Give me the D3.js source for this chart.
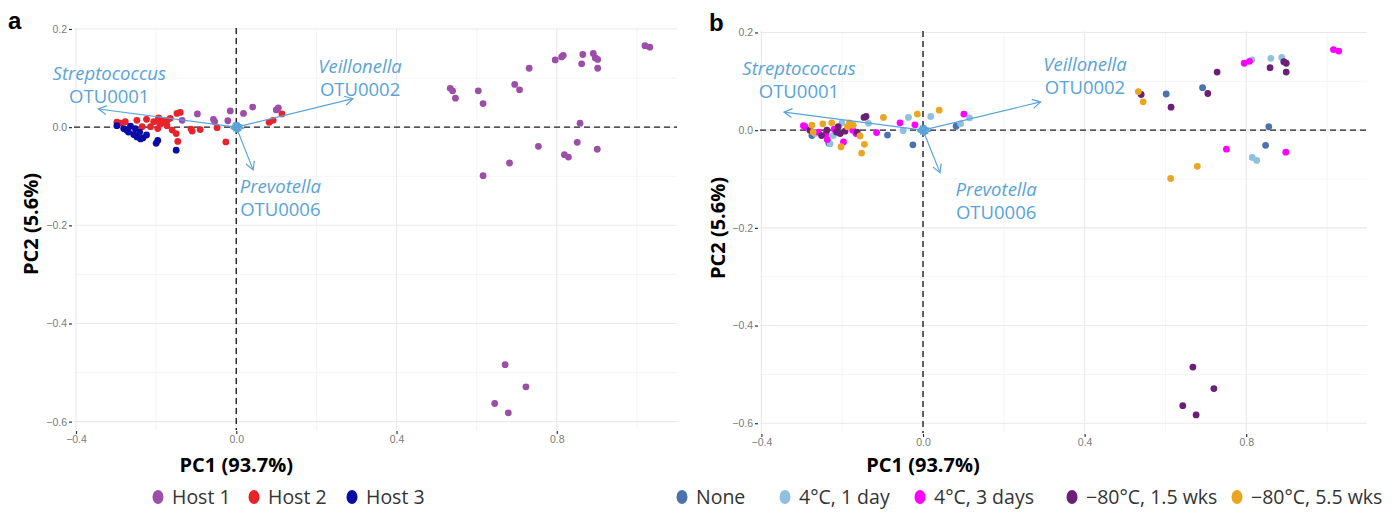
<!DOCTYPE html>
<html>
<head>
<meta charset="utf-8">
<script src="https://cdnjs.cloudflare.com/ajax/libs/d3/7.8.5/d3.min.js"></script>
<style>
    body { margin: 0; background: #fff; }
    svg { display: block; font-family: "Open Sans", sans-serif; }
</style>
</head>
<body>
<div id="chart"></div>
<script>
"use strict";

// tick values
const xMajor = [-0.4, 0.0, 0.4, 0.8];
const xMinor = [-0.2, 0.2, 0.6, 1.0];
const yMajor = [-0.6, -0.4, -0.2, 0.0, 0.2];
const yMinor = [-0.5, -0.3, -0.1, 0.1];

// OTU loadings (biplot arrows)
const loadingNames = ["Streptococcus", "Veillonella", "Prevotella"];
const loadingOtus = ["OTU0001", "OTU0002", "OTU0006"];
const loadingPC1 = [-0.344, 0.291, 0.042];
const loadingPC2 = [0.037, 0.058, -0.087];
// the many small loadings bunched at the origin
const minorPC1 = [0.014, 0.011, -0.009, 0.006, -0.006, 0.018, -0.013, 0.004];
const minorPC2 = [0.004, -0.007, 0.004, 0.009, -0.008, -0.002, -0.002, -0.010];

// panel a: samples by host
const hostNames = ["Host 1", "Host 2", "Host 3"];
const host1 = [[1.020, 0.166], [1.032, 0.163], [0.796, 0.137], [0.812, 0.143], [0.816, 0.146], [0.865, 0.148],
    [0.862, 0.129], [0.891, 0.150], [0.896, 0.141], [0.902, 0.138], [0.902, 0.120], [0.731, 0.120], [0.695, 0.087],
    [0.707, 0.076], [0.604, 0.074], [0.616, 0.048], [0.534, 0.079], [0.540, 0.074], [0.547, 0.059], [0.858, 0.008],
    [0.754, -0.039], [0.851, -0.031], [0.819, -0.056], [0.829, -0.061], [0.901, -0.045], [0.682, -0.073],
    [0.616, -0.099], [0.671, -0.484], [0.723, -0.529], [0.645, -0.563], [0.679, -0.582],
    [0.100, 0.035], [0.105, 0.039], [0.041, 0.041], [0.018, 0.028], [-0.015, 0.033], [-0.021, 0.013],
    [-0.057, 0.016], [-0.054, 0.011], [-0.097, 0.027], [-0.135, 0.014], [-0.196, 0.012]];
const host2 = [[0.114, 0.027], [0.092, 0.014], [0.082, 0.010], [-0.048, -0.001], [-0.090, -0.005], [-0.110, -0.008],
    [-0.026, -0.030], [-0.298, 0.010], [-0.289, 0.008], [-0.277, 0.011], [-0.248, 0.014], [-0.224, 0.016],
    [-0.194, 0.019], [-0.188, 0.014], [-0.173, 0.013], [-0.148, 0.028], [-0.140, 0.030], [-0.214, 0.001],
    [-0.196, -0.003], [-0.173, 0.003], [-0.160, -0.006], [-0.150, -0.013], [-0.146, -0.029], [-0.113, -0.004],
    [-0.190, 0.006], [-0.235, 0.001], [-0.206, 0.011], [-0.181, 0.010], [-0.165, 0.018]];
const host3 = [[-0.298, 0.003], [-0.281, -0.003], [-0.269, -0.010], [-0.256, -0.015], [-0.248, -0.020],
    [-0.239, -0.024], [-0.233, -0.022], [-0.224, -0.016], [-0.241, -0.010], [-0.252, -0.003], [-0.196, -0.027],
    [-0.200, -0.033], [-0.150, -0.047], [-0.264, 0.002], [-0.274, -0.006]];

// panel b: samples by storage condition
const storageNames = ["None", "4°C, 1 day", "4°C, 3 days", "\u221280°C, 1.5 wks", "\u221280°C, 5.5 wks"];
const storeNone = [[0.692, 0.087], [0.602, 0.074], [0.856, 0.007], [0.848, -0.031], [0.082, 0.008],
    [-0.025, -0.030], [-0.088, -0.010], [-0.233, -0.027], [-0.275, -0.011]];
const store4c1d = [[0.814, 0.144], [0.861, 0.147], [0.888, 0.149], [0.815, -0.056], [0.826, -0.062],
    [-0.036, 0.026], [0.019, 0.028], [0.115, 0.025], [0.093, 0.013], [-0.049, -0.001], [-0.135, 0.014],
    [-0.201, 0.015], [-0.230, -0.028], [-0.222, -0.011], [-0.267, -0.007]];
const store4c3d = [[1.016, 0.165], [1.029, 0.162], [0.795, 0.137], [0.808, 0.141], [0.751, -0.039], [0.898, -0.045],
    [0.101, 0.033], [-0.057, 0.015], [-0.020, 0.011], [-0.115, -0.005], [-0.296, 0.009], [-0.197, -0.024],
    [-0.237, -0.019], [-0.220, 0.002], [-0.240, -0.007], [-0.259, -0.004], [-0.292, 0.007], [-0.166, -0.007],
    [-0.174, 0.000]];
const store80w15 = [[0.893, 0.140], [0.899, 0.137], [0.859, 0.128], [0.899, 0.119], [0.728, 0.119], [0.705, 0.075],
    [0.614, 0.047], [0.540, 0.073], [0.668, -0.485], [0.720, -0.529], [0.643, -0.564], [0.676, -0.583],
    [-0.146, 0.026], [-0.141, 0.028], [-0.214, -0.004], [-0.205, -0.007], [-0.251, -0.011], [-0.280, 0.000],
    [-0.163, -0.004], [-0.193, -0.002], [-0.210, 0.007], [-0.238, 0.000]];
const store80w55 = [[0.533, 0.079], [0.545, 0.058], [0.679, -0.074], [0.613, -0.099], [-0.014, 0.033],
    [0.040, 0.041], [-0.098, 0.026], [-0.182, 0.015], [-0.226, 0.015], [-0.248, 0.013], [-0.275, 0.010],
    [-0.156, -0.012], [-0.145, -0.029], [-0.152, -0.047], [-0.203, -0.034], [-0.272, -0.004], [-0.187, 0.007],
    [-0.173, 0.010]];

const arrowColor = "#5aa3d8";

const panels = [
    {
        tag: "a", tagX: 8, tagY: 29,
        left: 74, right: 677, top: 28, bottom: 430,
        xDom: [-0.405, 1.10], yDom: [0.202, -0.617],
        yTitleX: 38, yTitleY: 224,
        names: hostNames,
        series: [host1, host2, host3],
        colors: ["#9d4ea7", "#e8232a", "#0a0aa6"],
        labelPos: [[-0.317, 0.096], [0.309, 0.110], [0.110, -0.135]],
        legendX: [158, 254, 352]
    },
    {
        tag: "b", tagX: 709, tagY: 31,
        left: 760, right: 1367, top: 31, bottom: 433,
        xDom: [-0.4035, 1.099], yDom: [0.203, -0.62],
        yTitleX: 725, yTitleY: 228,
        names: storageNames,
        series: [storeNone, store4c1d, store4c3d, store80w15, store80w55],
        colors: ["#4a72ae", "#8fc0e0", "#ff00ff", "#6a1f78", "#eaa623"],
        labelPos: [[-0.307, 0.113], [0.401, 0.121], [0.181, -0.134]],
        legendX: [682, 785, 920, 1072, 1237]
    }
];

const svg = d3.select("#chart").append("svg")
    .attr("width", 1396)
    .attr("height", 513);

const defs = svg.append("defs");
defs.append("marker")
    .attr("id", "head")
    .attr("markerUnits", "userSpaceOnUse")
    .attr("markerWidth", 12).attr("markerHeight", 12)
    .attr("viewBox", "-10 -6 12 12")
    .attr("refX", 0).attr("refY", 0)
    .attr("orient", "auto")
    .append("path")
    .attr("d", "M-8,-4.5L0,0L-8,4.5")
    .attr("fill", "none")
    .attr("stroke", arrowColor)
    .attr("stroke-width", 1.2);

panels.forEach(drawPanel);

function drawPanel(p) {
    let x = d3.scaleLinear().domain(p.xDom).range([p.left, p.right]);
    let y = d3.scaleLinear().domain(p.yDom).range([p.top, p.bottom]);
    let g = svg.append("g");

    // grid: minor first, then major
    g.selectAll(".vminor").data(xMinor).enter().append("line")
        .attr("x1", d => x(d)).attr("x2", d => x(d))
        .attr("y1", p.top).attr("y2", p.bottom)
        .attr("stroke", "#f1f1f1").attr("stroke-width", 0.8);
    g.selectAll(".hminor").data(yMinor).enter().append("line")
        .attr("x1", p.left).attr("x2", p.right)
        .attr("y1", d => y(d)).attr("y2", d => y(d))
        .attr("stroke", "#f1f1f1").attr("stroke-width", 0.8);
    g.selectAll(".vmajor").data(xMajor).enter().append("line")
        .attr("x1", d => x(d)).attr("x2", d => x(d))
        .attr("y1", p.top).attr("y2", p.bottom)
        .attr("stroke", "#e9e9e9").attr("stroke-width", 1.1);
    g.selectAll(".hmajor").data(yMajor).enter().append("line")
        .attr("x1", p.left).attr("x2", p.right)
        .attr("y1", d => y(d)).attr("y2", d => y(d))
        .attr("stroke", "#e9e9e9").attr("stroke-width", 1.1);

    // axes
    let fmt = d3.format(".1f");
    let yAxis = g.append("g")
        .attr("transform", "translate(" + (p.left - 2) + ",0)")
        .call(d3.axisLeft(y).tickValues(yMajor).tickSize(3).tickPadding(2).tickFormat(fmt));
    let xAxis = g.append("g")
        .attr("transform", "translate(0," + (p.bottom + 1) + ")")
        .call(d3.axisBottom(x).tickValues(xMajor).tickSize(3).tickPadding(2).tickFormat(fmt));
    [xAxis, yAxis].forEach(a => {
        a.select(".domain").remove();
        a.selectAll(".tick line").attr("stroke", "#333").attr("stroke-width", 1.2);
        a.selectAll(".tick text")
            .attr("fill", "#7a7a7a")
            .style("font-family", "'Liberation Sans', Arial, sans-serif")
            .style("font-size", "10.5px");
    });

    // dashed zero lines
    g.append("line")
        .attr("x1", p.left).attr("x2", p.right)
        .attr("y1", y(0)).attr("y2", y(0))
        .attr("stroke", "#222").attr("stroke-width", 1.4)
        .attr("stroke-dasharray", "6,4");
    g.append("line")
        .attr("x1", x(0)).attr("x2", x(0))
        .attr("y1", p.top).attr("y2", p.bottom)
        .attr("stroke", "#222").attr("stroke-width", 1.4)
        .attr("stroke-dasharray", "6,4");

    // sample points
    p.series.forEach((pts, i) => {
        g.selectAll(".pt" + i).data(pts).enter().append("circle")
            .attr("cx", d => x(d[0]))
            .attr("cy", d => y(d[1]))
            .attr("r", 3.4)
            .attr("fill", p.colors[i]);
    });

    // loading arrows
    let arrows = minorPC1.map((v, i) => [v, minorPC2[i]])
        .concat(loadingPC1.map((v, i) => [v, loadingPC2[i]]));
    g.selectAll(".arrow").data(arrows).enter().append("line")
        .attr("x1", x(0)).attr("y1", y(0))
        .attr("x2", d => x(d[0])).attr("y2", d => y(d[1]))
        .attr("stroke", arrowColor)
        .attr("stroke-width", 1.2)
        .attr("marker-end", "url(#head)");

    // arrow labels
    loadingNames.forEach((name, i) => {
        let lx = x(p.labelPos[i][0]);
        let ly = y(p.labelPos[i][1]);
        g.append("text")
            .attr("x", lx).attr("y", ly)
            .attr("text-anchor", "middle")
            .attr("fill", arrowColor)
            .style("font-style", "italic")
            .style("font-size", "18.5px")
            .text(name);
        g.append("text")
            .attr("x", lx).attr("y", ly + 23)
            .attr("text-anchor", "middle")
            .attr("fill", arrowColor)
            .style("font-size", "18.5px")
            .text(loadingOtus[i]);
    });

    // panel tag
    svg.append("text")
        .attr("x", p.tagX).attr("y", p.tagY)
        .style("font-family", "'Liberation Sans', Arial, sans-serif")
        .style("font-weight", "bold")
        .style("font-size", "24px")
        .text(p.tag);

    // axis titles
    svg.append("text")
        .attr("x", x(0)).attr("y", 472)
        .attr("text-anchor", "middle")
        .style("font-weight", "bold")
        .style("font-size", "20px")
        .text("PC1 (93.7%)");
    svg.append("text")
        .attr("transform", "translate(" + p.yTitleX + "," + p.yTitleY + ") rotate(-90)")
        .attr("text-anchor", "middle")
        .style("font-weight", "bold")
        .style("font-size", "20px")
        .text("PC2 (5.6%)");

    // legend
    let legend = svg.selectAll(".legend" + p.tag)
        .data(p.names)
        .enter().append("g")
        .attr("transform", (d, i) => "translate(" + p.legendX[i] + ",497)");
    legend.append("ellipse")
        .attr("rx", 5.5).attr("ry", 7)
        .attr("fill", (d, i) => p.colors[i]);
    legend.append("text")
        .attr("x", 14).attr("y", 7)
        .attr("fill", "#333")
        .style("font-size", "19.5px")
        .text(d => d);
}
</script>
</body>
</html>
